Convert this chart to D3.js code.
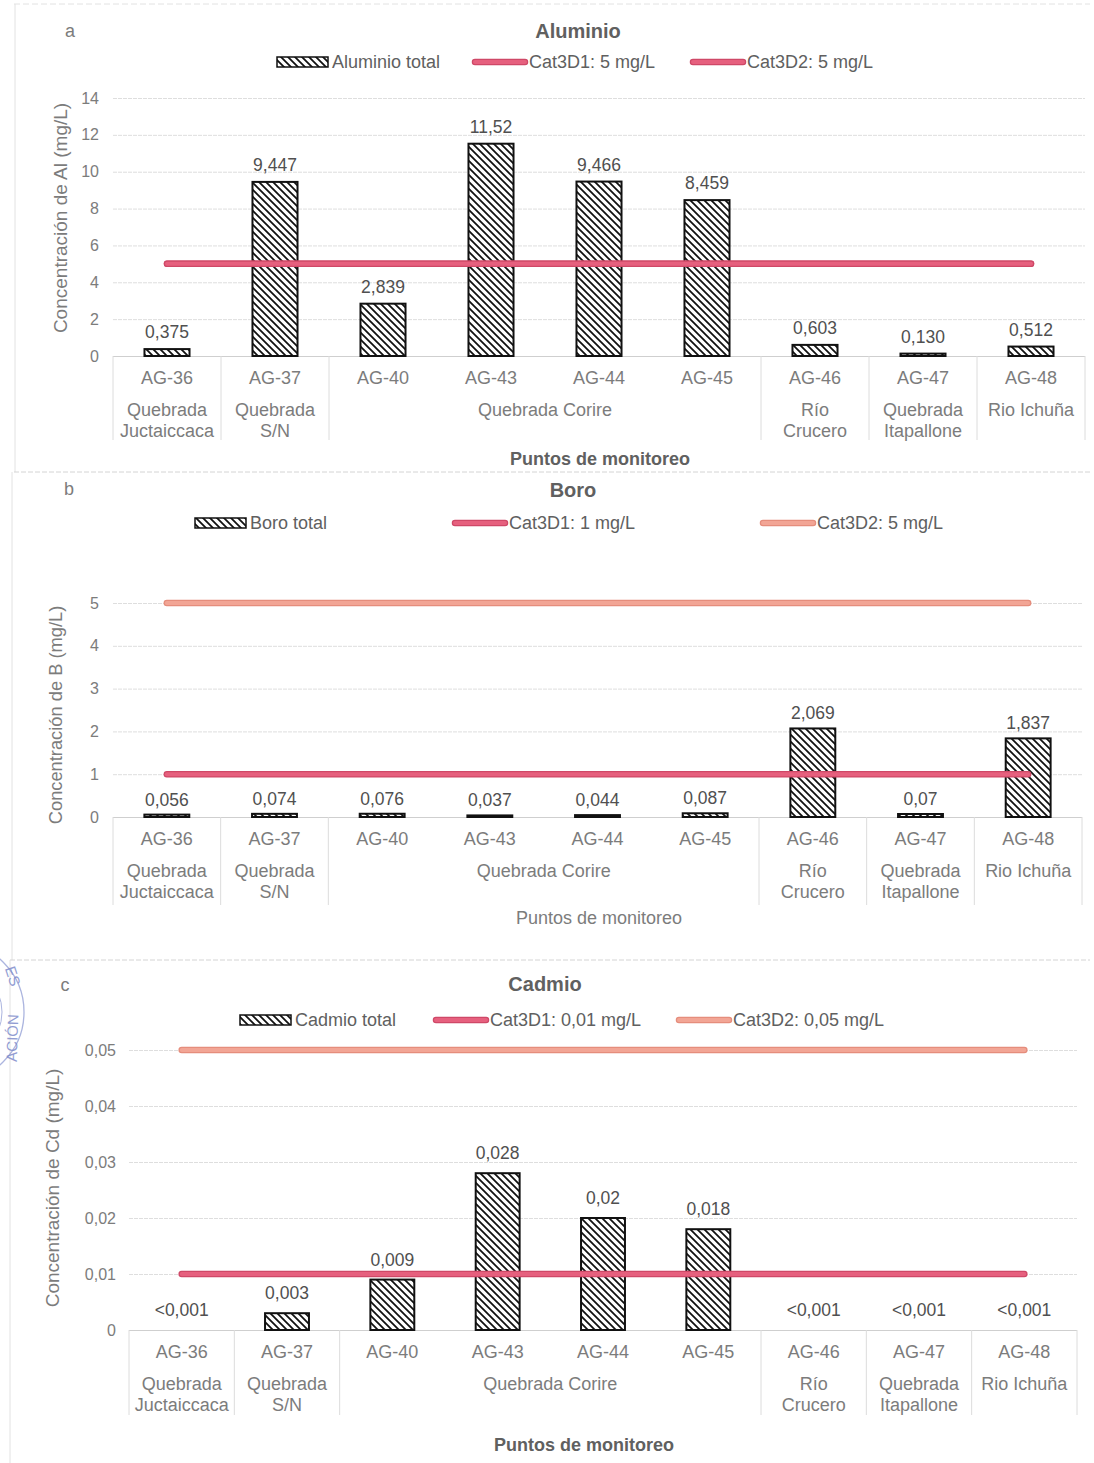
<!DOCTYPE html>
<html><head><meta charset="utf-8">
<script src="https://cdn.jsdelivr.net/npm/d3@7"></script>
<style>
html,body{margin:0;padding:0;background:#fff;}
svg{display:block;font-family:"Liberation Sans",Arial,sans-serif;}
</style></head><body>
<svg id="chart" width="1094" height="1463"></svg>
<script>
// Monitoring points and their watercourses
const stations = ["AG-36","AG-37","AG-40","AG-43","AG-44","AG-45","AG-46","AG-47","AG-48"];
const groupNames = [["Quebrada","Juctaiccaca"],["Quebrada","S/N"],["Quebrada Corire"],["Río","Crucero"],["Quebrada","Itapallone"],["Rio Ichuña"]];
const groupSpans = [1,1,4,1,1,1];

// Aluminium (mg/L)
const aluminio = [0.375, 9.447, 2.839, 11.52, 9.466, 8.459, 0.603, 0.130, 0.512];
const aluminioLabels = ["0,375","9,447","2,839","11,52","9,466","8,459","0,603","0,130","0,512"];
const aluminioLimits = [5, 5];
const aluminioLegend = ["Aluminio total","Cat3D1: 5 mg/L","Cat3D2: 5 mg/L"];
const aluminioTicks = [0,2,4,6,8,10,12,14];

// Boron (mg/L)
const boro = [0.056, 0.074, 0.076, 0.037, 0.044, 0.087, 2.069, 0.07, 1.837];
const boroLabels = ["0,056","0,074","0,076","0,037","0,044","0,087","2,069","0,07","1,837"];
const boroLimits = [1, 5];
const boroLegend = ["Boro total","Cat3D1: 1 mg/L","Cat3D2: 5 mg/L"];
const boroTicks = [0,1,2,3,4,5];

// Cadmium (mg/L); null = below detection limit
const cadmio = [null, 0.003, 0.009, 0.028, 0.02, 0.018, null, null, null];
const cadmioLabels = ["<0,001","0,003","0,009","0,028","0,02","0,018","<0,001","<0,001","<0,001"];
const cadmioLimits = [0.01, 0.05];
const cadmioLegend = ["Cadmio total","Cat3D1: 0,01 mg/L","Cat3D2: 0,05 mg/L"];
const cadmioTicks = [0,0.01,0.02,0.03,0.04,0.05];

const RED = {outer:"#cf4867", inner:"#e6607e"};
const SALMON = {outer:"#e58d7c", inner:"#f2a595"};
const TXT = "#606060", TXT_LIGHT = "#7c7c7c";

const loc = d3.formatLocale({decimal:",", thousands:".", grouping:[3], currency:["",""]});

const svg = d3.select("#chart");
const defs = svg.append("defs");
const pat = defs.append("pattern").attr("id","hatch")
  .attr("patternUnits","userSpaceOnUse").attr("width",7).attr("height",7);
pat.append("rect").attr("width",7).attr("height",7).attr("fill","#fff");
pat.append("path").attr("d","M0,0L7,7M-2,5L2,9M5,-2L9,2")
  .attr("stroke","#111").attr("stroke-width",1.8);

// page frame lines of the report
const frame = svg.append("g").attr("stroke","#e2e2e2").attr("stroke-width",1);
frame.append("line").attr("x1",14).attr("x2",1090).attr("y1",4).attr("y2",4).attr("stroke-dasharray","6,3");
frame.append("line").attr("x1",15).attr("x2",15).attr("y1",4).attr("y2",472);
frame.append("line").attr("x1",14).attr("x2",1090).attr("y1",472).attr("y2",472).attr("stroke","#d4d4d4").attr("stroke-dasharray","5,2");
frame.append("line").attr("x1",12).attr("x2",12).attr("y1",472).attr("y2",960);
frame.append("line").attr("x1",10).attr("x2",1090).attr("y1",960).attr("y2",960).attr("stroke","#d4d4d4").attr("stroke-dasharray","5,2");
frame.append("line").attr("x1",10).attr("x2",10).attr("y1",960).attr("y2",1463);

const panels = [
  {letter:"a", letterX:70, letterY:31, title:"Aluminio", titleX:578, titleY:31,
   values:aluminio, labels:aluminioLabels, limits:aluminioLimits, limitColors:[RED,RED],
   legend:aluminioLegend, legendX:[277,472,690], legendY:62, ticks:aluminioTicks, dec:0,
   x0:113, x1:1085, y0:356, yTop:98, yMax:14, yTitle:"Concentración de Al (mg/L)", yTitleSize:19,
   yTitleX:60, yTitleY:218, xTitleX:600, xTitleY:459, xTitleBold:true, gap:17, sepBottom:440, tickGap:14},
  {letter:"b", letterX:69, letterY:489, title:"Boro", titleX:573, titleY:490,
   values:boro, labels:boroLabels, limits:boroLimits, limitColors:[RED,SALMON],
   legend:boroLegend, legendX:[195,452,760], legendY:523, ticks:boroTicks, dec:0,
   x0:113, x1:1082, y0:817, yTop:603, yMax:5, yTitle:"Concentración de B (mg/L)", yTitleSize:18.3,
   yTitleX:55, yTitleY:715, xTitleX:599, xTitleY:918, xTitleBold:false, gap:15, sepBottom:905, tickGap:14},
  {letter:"c", letterX:65, letterY:985, title:"Cadmio", titleX:545, titleY:984,
   values:cadmio, labels:cadmioLabels, limits:cadmioLimits, limitColors:[RED,SALMON],
   legend:cadmioLegend, legendX:[240,433,676], legendY:1020, ticks:cadmioTicks, dec:2,
   x0:129, x1:1077, y0:1330, yTop:1050, yMax:0.05, yTitle:"Concentración de Cd (mg/L)", yTitleSize:19,
   yTitleX:52, yTitleY:1188, xTitleX:584, xTitleY:1445, xTitleBold:true, gap:20, sepBottom:1415, tickGap:13}
];

function refLine(g, x1, x2, y, c, w) {
  g.append("line").attr("x1",x1).attr("x2",x2).attr("y1",y).attr("y2",y)
    .attr("stroke",c.outer).attr("stroke-width",w+1.5).attr("stroke-linecap","round");
  g.append("line").attr("x1",x1).attr("x2",x2).attr("y1",y).attr("y2",y)
    .attr("stroke",c.inner).attr("stroke-width",w-1).attr("stroke-linecap","round");
}

panels.forEach(p => {
  const g = svg.append("g");
  const x = d3.scaleBand().domain(stations).range([p.x0, p.x1])
    .paddingInner(0.583).paddingOuter(0.2915);
  const y = d3.scaleLinear().domain([0, p.yMax]).range([p.y0, p.yTop]);
  const step = x.step();
  const fmt = p.dec === 0 ? loc.format("d") : (d => d === 0 ? "0" : loc.format("." + p.dec + "f")(d));

  // panel letter and title
  g.append("text").attr("x",p.letterX).attr("y",p.letterY).attr("text-anchor","middle")
    .attr("dominant-baseline","central").attr("font-size",18).attr("fill",TXT_LIGHT).text(p.letter);
  g.append("text").attr("x",p.titleX).attr("y",p.titleY).attr("text-anchor","middle")
    .attr("dominant-baseline","central").attr("font-size",20).attr("font-weight","bold")
    .attr("fill",TXT).text(p.title);

  // legend
  const lg = g.append("g").attr("font-size",18).attr("fill",TXT);
  lg.append("rect").attr("x",p.legendX[0]).attr("y",p.legendY-5).attr("width",51).attr("height",10)
    .attr("fill","url(#hatch)").attr("stroke","#111").attr("stroke-width",1.5);
  lg.append("text").attr("x",p.legendX[0]+55).attr("y",p.legendY).attr("dominant-baseline","central")
    .text(p.legend[0]);
  [1,2].forEach(i => {
    refLine(lg, p.legendX[i]+3, p.legendX[i]+53, p.legendY, p.limitColors[i-1], 5);
    lg.append("text").attr("x",p.legendX[i]+57).attr("y",p.legendY).attr("dominant-baseline","central")
      .text(p.legend[i]);
  });

  // y axis with gridlines
  const ax = g.append("g").attr("transform",`translate(${p.x0},0)`)
    .call(d3.axisLeft(y).tickValues(p.ticks).tickSize(-(p.x1 - p.x0)).tickPadding(p.tickGap).tickFormat(fmt));
  ax.select(".domain").remove();
  ax.selectAll(".tick line").attr("stroke",d => d === 0 ? "#cfcfcf" : "#dedede")
    .attr("stroke-dasharray",d => d === 0 ? null : "4,1");
  ax.selectAll(".tick text").attr("font-size",16).attr("fill",TXT_LIGHT)
    .attr("font-family",'"Liberation Sans",Arial,sans-serif');

  g.append("text").attr("transform",`translate(${p.yTitleX},${p.yTitleY}) rotate(-90)`)
    .attr("text-anchor","middle").attr("dominant-baseline","central")
    .attr("font-size",p.yTitleSize).attr("fill",TXT_LIGHT).text(p.yTitle);

  // bars
  g.append("g").selectAll("rect")
    .data(stations.map((s,i) => ({s, v:p.values[i]})).filter(d => d.v !== null))
    .join("rect")
    .attr("x",d => x(d.s)).attr("width",x.bandwidth())
    .attr("y",d => y(d.v)).attr("height",d => Math.max(0, y(0) - y(d.v)))
    .attr("fill","url(#hatch)").attr("stroke","#111").attr("stroke-width",2);

  // limit lines between first and last station centres
  const cx0 = x(stations[0]) + x.bandwidth()/2;
  const cx1 = x(stations[stations.length-1]) + x.bandwidth()/2;
  [1,0].forEach(i => refLine(g, cx0, cx1, y(p.limits[i]), p.limitColors[i], 5));

  // value labels
  g.append("g").selectAll("text")
    .data(stations.map((s,i) => ({s, v:p.values[i], t:p.labels[i]})))
    .join("text")
    .attr("x",d => x(d.s) + x.bandwidth()/2)
    .attr("y",d => y(d.v === null ? 0 : d.v) - p.gap)
    .attr("text-anchor","middle").attr("dominant-baseline","central")
    .attr("font-size",17.5).attr("fill","#505050").text(d => d.t);

  // category axis: station codes, watercourse groups and separators
  const cat = g.append("g").attr("font-size",18).attr("fill",TXT_LIGHT).attr("text-anchor","middle");
  stations.forEach(s => {
    cat.append("text").attr("x",x(s) + x.bandwidth()/2).attr("y",p.y0 + 22)
      .attr("dominant-baseline","central").text(s);
  });
  let idx = 0;
  const seps = [p.x0];
  groupNames.forEach((lines, gi) => {
    const a = p.x0 + step*idx;
    idx += groupSpans[gi];
    const b = p.x0 + step*idx;
    seps.push(b);
    lines.forEach((ln, li) => {
      cat.append("text").attr("x",(a+b)/2).attr("y",p.y0 + 54 + li*21)
        .attr("dominant-baseline","central").text(ln);
    });
  });
  g.append("g").selectAll("line").data(seps).join("line")
    .attr("x1",d => d).attr("x2",d => d).attr("y1",p.y0).attr("y2",p.sepBottom)
    .attr("stroke","#dcdcdc").attr("stroke-width",1);

  g.append("text").attr("x",p.xTitleX).attr("y",p.xTitleY).attr("text-anchor","middle")
    .attr("dominant-baseline","central").attr("font-size",18)
    .attr("font-weight",p.xTitleBold ? "bold" : "normal")
    .attr("fill",p.xTitleBold ? TXT : TXT_LIGHT).text("Puntos de monitoreo");
});

// edge of an ink stamp on the page margin
const stamp = svg.append("g").attr("fill","none").attr("stroke","#8a97d2").attr("opacity",0.7);
stamp.append("circle").attr("cx",-46).attr("cy",1012).attr("r",70).attr("stroke-width",1.3);
stamp.append("circle").attr("cx",-46).attr("cy",1012).attr("r",48).attr("stroke-width",1);
const stampTxt = svg.append("g").attr("font-size",15).attr("fill","#7f8dcc").attr("opacity",0.85)
  .attr("text-anchor","middle").attr("dominant-baseline","central");
stampTxt.append("text").attr("transform","translate(13,976) rotate(72)").text("ES");
stampTxt.append("text").attr("transform","translate(12,1038) rotate(-88)").text("ACIÓN");
</script>
</body></html>
